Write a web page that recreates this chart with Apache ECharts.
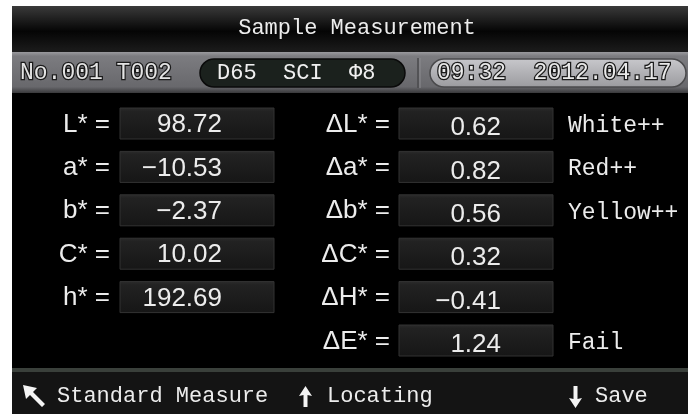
<!DOCTYPE html>
<html>
<head>
<meta charset="utf-8">
<script src="https://cdn.jsdelivr.net/npm/echarts@6/dist/echarts.min.js"></script>
<style>
  html, body { margin: 0; padding: 0; background: #fff; }
  #main { width: 688px; height: 414px; }
</style>
</head>
<body>
<div id="main"></div>
<script>
// screen texts
var titleText = 'Sample Measurement';
var sampleNo = 'No.001 T002';
var conditions = 'D65  SCI  Φ8';
var timeStamp = '09:32  2012.04.17';
var footerWords = ['Standard Measure', 'Locating', 'Save'];

// measured values
var leftLabels = ['L*', 'a*', 'b*', 'C*', 'h*', ''];
var leftValues = [98.72, -10.53, -2.37, 10.02, 192.69, null];
var deltaLabels = ['ΔL*', 'Δa*', 'Δb*', 'ΔC*', 'ΔH*', 'ΔE*'];
var deltaValues = [0.62, 0.82, 0.56, 0.32, -0.41, 1.24];
var notes = ['White++', 'Red++', 'Yellow++', '', '', 'Fail'];

var monoFont = '"Liberation Mono", "DejaVu Sans Mono", monospace';
var sansFont = '"Liberation Sans", Arial, sans-serif';
var textColor = '#ececec';

function fmt(v) {
    return v.toFixed(2).replace('-', '−');
}

function valueBox(x, y, w) {
    return {
        type: 'rect',
        shape: { x: x, y: y - 15.5, width: w, height: 31 },
        style: {
            fill: new echarts.graphic.LinearGradient(0, 0, 0, 1, [
                { offset: 0, color: '#2c2c2c' },
                { offset: 0.12, color: '#222' },
                { offset: 1, color: '#161616' }
            ]),
            stroke: '#333',
            lineWidth: 1
        }
    };
}

function txt(x, y, text, size, font, align, extra) {
    var style = {
        x: x, y: y, text: text,
        fill: textColor,
        font: size + 'px ' + font,
        textAlign: align || 'left',
        textVerticalAlign: 'middle'
    };
    for (var k in extra) style[k] = extra[k];
    return { type: 'text', style: style };
}

function arrow(points) {
    return { type: 'polygon', shape: { points: points }, style: { fill: '#f4f4f4' } };
}

var rows = deltaLabels.map(function (d, i) { return [0, i]; });

var chart = echarts.init(document.getElementById('main'));

var option = {
    backgroundColor: '#fff',
    animation: false,
    grid: { left: 0, right: 0, top: 101.8, bottom: 51.8 },
    xAxis: { type: 'value', min: 0, max: 688, show: false },
    yAxis: {
        type: 'category',
        inverse: true,
        show: false,
        data: deltaLabels
    },
    graphic: [
        // screen
        { type: 'rect', z: -10, shape: { x: 12, y: 6, width: 676, height: 408 }, style: { fill: '#000' } },
        // header
        {
            type: 'rect', z: -5,
            shape: { x: 12, y: 6, width: 676, height: 46 },
            style: {
                fill: new echarts.graphic.LinearGradient(0, 0, 0, 1, [
                    { offset: 0, color: '#3a3a3a' },
                    { offset: 0.55, color: '#050505' },
                    { offset: 1, color: '#1c1c1c' }
                ])
            }
        },
        txt(357, 28, titleText, 22, monoFont, 'center'),
        // status band
        {
            type: 'rect', z: -5,
            shape: { x: 12, y: 52, width: 676, height: 41 },
            style: {
                fill: new echarts.graphic.LinearGradient(0, 0, 0, 1, [
                    { offset: 0, color: '#9a9a9e' },
                    { offset: 0.1, color: '#7c7c80' },
                    { offset: 0.85, color: '#68686c' },
                    { offset: 1, color: '#3a3a3c' }
                ])
            }
        },
        txt(20, 73, sampleNo, 23, monoFont, 'left', { fill: '#e4e4e4', stroke: '#1a1a1a', lineWidth: 2.5 }),
        {
            type: 'rect',
            shape: { x: 200, y: 59, width: 205, height: 28, r: 14 },
            style: { fill: '#1b211d', stroke: '#0a0a0a', lineWidth: 1.5 }
        },
        txt(217, 73, conditions, 22, monoFont, 'left', { fill: '#f0f0f0' }),
        { type: 'line', shape: { x1: 418, y1: 58, x2: 418, y2: 88 }, style: { stroke: '#4a4a4c', lineWidth: 1.5 } },
        { type: 'line', shape: { x1: 420, y1: 58, x2: 420, y2: 88 }, style: { stroke: '#8c8c90', lineWidth: 1 } },
        {
            type: 'rect',
            shape: { x: 430, y: 59, width: 256, height: 28, r: 14 },
            style: {
                fill: new echarts.graphic.LinearGradient(0, 0, 0, 1, [
                    { offset: 0, color: '#c8c8cc' },
                    { offset: 1, color: '#9a9a9e' }
                ]),
                stroke: '#4a4a4c', lineWidth: 1.5
            }
        },
        txt(437, 73, timeStamp, 23, monoFont, 'left', { fill: '#e8e8e8', stroke: '#1a1a1a', lineWidth: 2.5 }),
        // footer
        { type: 'rect', shape: { x: 12, y: 368, width: 676, height: 4 }, style: { fill: '#3a403b' } },
        { type: 'rect', shape: { x: 12, y: 372, width: 676, height: 42 }, style: { fill: '#141414' } },
        // ↖
        arrow([[23, 385], [37, 388], [33, 392], [45, 404], [42, 407], [30, 395], [26, 399]]),
        txt(57, 396, footerWords[0], 22, monoFont, 'left'),
        // ↑
        arrow([[305.5, 386], [312, 396], [307.5, 395], [307.5, 407], [303.5, 407], [303.5, 395], [299, 396]]),
        txt(327, 396, footerWords[1], 22, monoFont, 'left'),
        // ↓
        arrow([[575.5, 408], [582, 398], [577.5, 399], [577.5, 386], [573.5, 386], [573.5, 399], [569, 398]]),
        txt(595, 396, footerWords[2], 22, monoFont, 'left')
    ],
    series: [{
        type: 'custom',
        coordinateSystem: 'cartesian2d',
        encode: { x: 0, y: 1 },
        data: rows,
        renderItem: function (params, api) {
            var i = api.value(1);
            var y = api.coord([0, i])[1];
            var children = [];
            if (leftLabels[i]) {
                children.push(txt(110, y + 1, leftLabels[i] + ' =', 26, sansFont, 'right'));
                children.push(valueBox(120, y, 154));
                children.push(txt(222, y + 1.5, fmt(leftValues[i]), 26, sansFont, 'right'));
            }
            children.push(txt(390, y + 1, deltaLabels[i] + ' =', 26, sansFont, 'right'));
            children.push(valueBox(399, y, 154));
            children.push(txt(501, y + 4.5, fmt(deltaValues[i]), 26, sansFont, 'right'));
            if (notes[i]) {
                children.push(txt(568, y + 2.5, notes[i], 23, monoFont, 'left'));
            }
            return { type: 'group', children: children };
        }
    }]
};

chart.setOption(option);
</script>
</body>
</html>
